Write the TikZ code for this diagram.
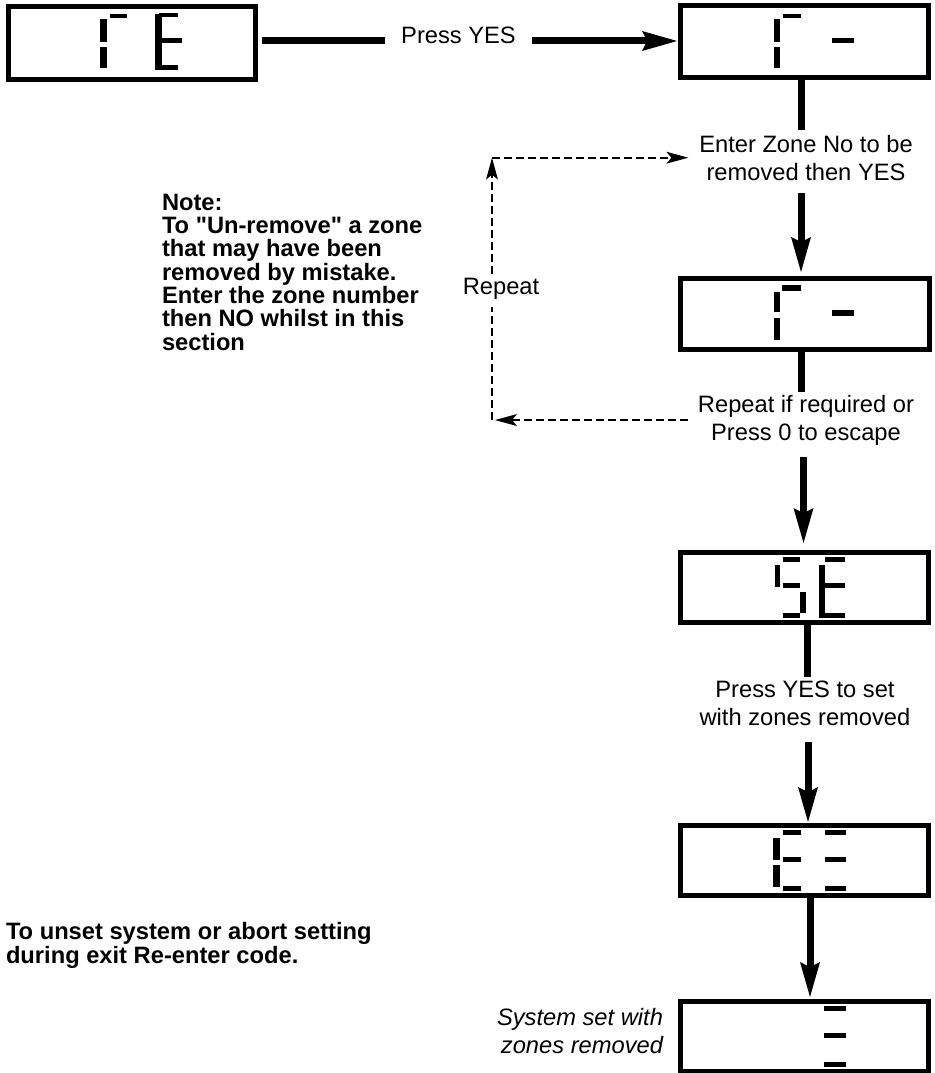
\documentclass[tikz,border=0pt]{standalone}
\usepackage{fontspec}
\setmainfont{Liberation Sans}[Ligatures=TeXOff]
\usetikzlibrary{arrows.meta}
\newcommand\lcdseg[4]{\fill (#1,#2) rectangle (#3,#4);}
\begin{document}
\begin{tikzpicture}[x=1pt,y=-1pt,
  lcd/.style={draw,line width=5pt,inner sep=0pt,outer sep=0pt,minimum width=248pt},
  txt/.style={inner sep=0pt,outer sep=0pt,font=\fontsize{23.7}{28}\selectfont},
  thk/.style={line width=7pt},
  bigarrow/.style={thk,-{Stealth[length=35pt,width=20pt,inset=5pt,line width=0pt]}},
  dsh/.style={line width=2pt,dash pattern=on 8pt off 4pt},
  dsharrow/.style={dsh,-{Stealth[length=22pt,width=12pt,inset=5pt,line width=0pt]}},
]
\useasboundingbox (0,0) rectangle (934,1073);

% display boxes
\node[lcd,minimum width=247pt,minimum height=73pt] (b1) at (132,43) {};
\node[lcd,minimum height=72pt] (b2) at (804.5,41.5) {};
\node[lcd,minimum width=249pt,minimum height=71pt] (b3) at (805,314) {};
\node[lcd,minimum height=70pt] (b4) at (804.5,587.5) {};
\node[lcd,minimum height=70pt] (b5) at (804.5,860.5) {};
\node[lcd,minimum height=70pt] (b6) at (804.5,1036.5) {};

% segments box 1 : r E
\lcdseg{100}{19}{107}{42}
\lcdseg{100}{47}{107}{68}
\lcdseg{110}{14}{127}{18.5}
\lcdseg{155}{14}{162}{70}
\lcdseg{159}{13}{178}{17.5}
\lcdseg{162}{38}{182}{43}
\lcdseg{159}{65.5}{178}{70}
% box 2 : r -
\lcdseg{774}{19}{780}{42}
\lcdseg{774}{47}{780}{68}
\lcdseg{783}{14}{801}{18.5}
\lcdseg{832}{38}{854}{43}
% box 3 : r -
\lcdseg{774}{292}{780}{312}
\lcdseg{774}{318}{780}{340}
\lcdseg{782}{285}{801}{291}
\lcdseg{832}{310}{854}{316}
% box 4 : S E
\lcdseg{783}{557}{800}{562}
\lcdseg{775}{565}{780}{587}
\lcdseg{783}{583}{800}{588}
\lcdseg{800}{592}{805.5}{613}
\lcdseg{783}{613}{800}{618}
\lcdseg{825}{557}{845}{562}
\lcdseg{819}{565}{825}{618}
\lcdseg{823}{583}{845}{588}
\lcdseg{825}{613}{845}{618}
% box 5
\lcdseg{773}{838}{780}{860}
\lcdseg{773}{865}{780}{887}
\lcdseg{783}{830}{801}{835}
\lcdseg{783}{857}{801}{862}
\lcdseg{783}{886}{801}{891}
\lcdseg{825}{830}{846}{835}
\lcdseg{825}{857}{846}{862}
\lcdseg{825}{886}{846}{891}
% box 6
\lcdseg{824}{1006}{846}{1011}
\lcdseg{824}{1033}{846}{1038}
\lcdseg{824}{1062}{846}{1067}

% texts
\node[txt,text height=16pt,text depth=10pt,inner xsep=16pt] (pyes) at (458.5,41) {Press YES};
\node[txt,align=center,anchor=north] (t1) at (806,135) {Enter Zone No to be\\removed then YES};
\node[txt,align=center,anchor=north] (t2) at (806,395) {Repeat if required or\\Press 0 to escape};
\node[txt,align=center,anchor=north] (t3) at (805,681) {Press YES to set\\with zones removed};
\node[txt,anchor=north] (rep) at (501,278) {Repeat};
\node[txt,font=\bfseries\fontsize{23.7}{23.3}\selectfont,align=left,anchor=north west] (note) at (162,194)
  {Note:\\To "Un-remove" a zone\\that may have been\\removed by mistake.\\Enter the zone number\\then NO whilst in this\\section};
\node[txt,font=\bfseries\fontsize{23.7}{24}\selectfont,align=left,anchor=north west] (unset) at (6,922)
  {To unset system or abort setting\\during exit Re-enter code.};
\node[txt,font=\itshape\fontsize{23.7}{28}\selectfont,align=right,anchor=north east] (sys) at (663,1008)
  {System set with\\zones removed};

% column positions
\coordinate (cA) at (801,0);
\coordinate (cB) at (803.5,0);
\coordinate (cC) at (807.5,0);
\coordinate (cD) at (808,0);
\coordinate (cE) at (810,0);
\coordinate (lx) at (492,0);

% main connectors
\draw[thk,shorten <=6.5pt] (b1.east |- pyes.west) -- (pyes.west);
\draw[bigarrow,shorten >=3.5pt] (pyes.east) -- (pyes.east -| b2.west);
\draw[thk,shorten >=5pt] (b2.south -| cA) -- (t1.north -| cA);
\draw[bigarrow,shorten <=13pt,shorten >=6.5pt] (t1.south -| cA) -- (b3.north -| cA);
\draw[thk,shorten >=3pt] (b3.south -| cA) -- (t2.north -| cA);
\draw[bigarrow,shorten <=12pt,shorten >=9.5pt] (t2.south -| cB) -- (b4.north -| cB);
\draw[thk,shorten >=4pt] (b4.south -| cC) -- (t3.north -| cC);
\draw[bigarrow,shorten <=16pt,shorten >=3.5pt] (t3.south -| cD) -- (b5.north -| cD);
\draw[bigarrow,shorten >=4.5pt] (b5.south -| cE) -- (b6.north -| cE);

% repeat loop
\draw[dsharrow,shorten <=10pt,shorten >=3pt] (t2.west) -- (lx |- t2.west);
\draw[dsh,shorten >=8pt] (lx |- t2.west) -- (lx |- rep.south);
\draw[dsharrow,shorten <=4pt] (lx |- rep.north) -- (lx |- t1.west);
\draw[dsharrow,shorten >=11pt] (lx |- t1.west) -- (t1.west);
\end{tikzpicture}
\end{document}
